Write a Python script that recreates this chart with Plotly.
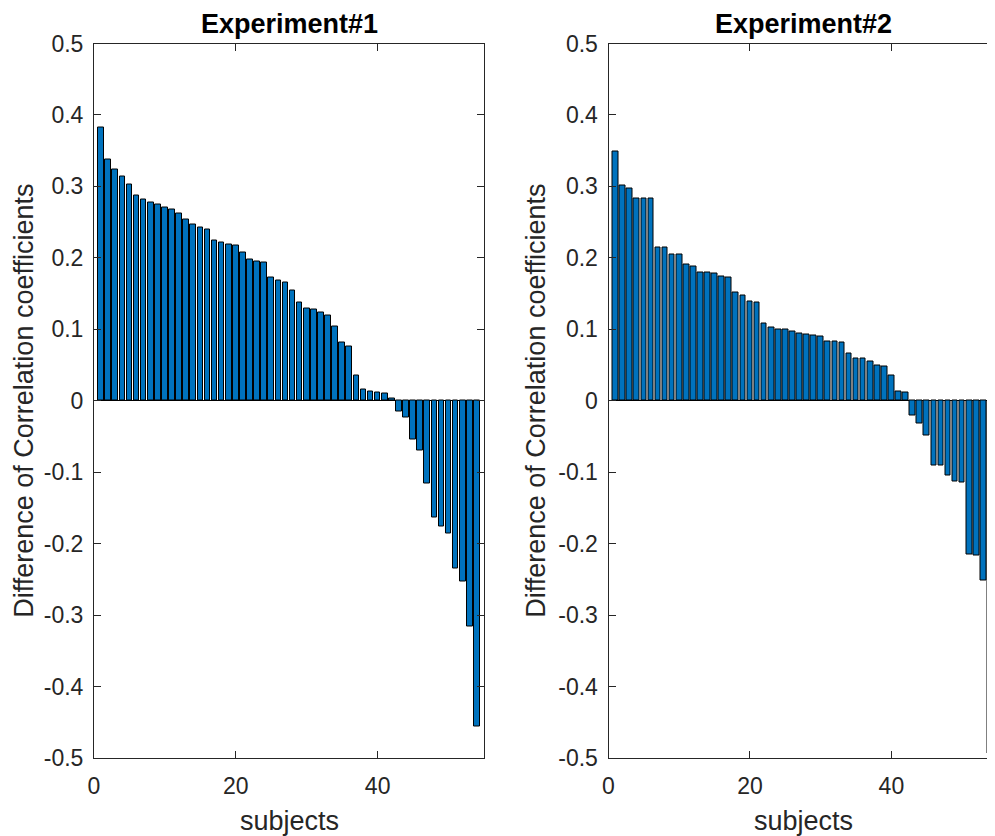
import plotly.graph_objects as go

# ---------------- data ----------------
subjects = list(range(1, 55))

exp1_diff = [0.383, 0.337, 0.324, 0.314, 0.302, 0.287, 0.282, 0.278, 0.275, 0.270,
             0.268, 0.262, 0.253, 0.247, 0.243, 0.239, 0.224, 0.221, 0.219, 0.217,
             0.207, 0.198, 0.195, 0.193, 0.172, 0.168, 0.165, 0.155, 0.138, 0.129,
             0.128, 0.124, 0.120, 0.104, 0.082, 0.076, 0.036, 0.016, 0.013, 0.012,
             0.010, 0.003, -0.015, -0.024, -0.054, -0.069, -0.116, -0.164, -0.176, -0.186,
             -0.235, -0.253, -0.316, -0.456]

exp2_diff = [0.349, 0.301, 0.297, 0.283, 0.283, 0.283, 0.215, 0.215, 0.205, 0.204,
             0.191, 0.188, 0.180, 0.179, 0.178, 0.174, 0.172, 0.152, 0.148, 0.139,
             0.138, 0.108, 0.103, 0.100, 0.100, 0.097, 0.094, 0.093, 0.092, 0.090,
             0.083, 0.083, 0.082, 0.066, 0.059, 0.059, 0.055, 0.050, 0.048, 0.035,
             0.013, 0.011, -0.021, -0.032, -0.049, -0.090, -0.091, -0.104, -0.113, -0.115,
             -0.215, -0.216, -0.251, -0.493]

titles = ["Experiment#1", "Experiment#2"]
x_label = "subjects"
y_label = "Difference of Correlation coefficients"

y_tickvals = [-0.5, -0.4, -0.3, -0.2, -0.1, 0, 0.1, 0.2, 0.3, 0.4, 0.5]
y_ticktext = ["-0.5", "-0.4", "-0.3", "-0.2", "-0.1", "0", "0.1", "0.2", "0.3", "0.4", "0.5"]
x_tickvals = [0, 20, 40]
x_ticktext = ["0", "20", "40"]

# ---------------- styling ----------------
W, H = 995, 836
OFF = 8  # page body margin: figure pixel = screen pixel - OFF
FONT = "Liberation Sans, Arial, Helvetica, sans-serif"
AX = "#262626"
BAR = "#0072BD"
TICK_SIZE = 23
LABEL_SIZE = 27

left_px = (94 - OFF, 484 - OFF)
right_px = (608.5 - OFF, 997.5 - OFF)
top_px, bot_px = 43.5 - OFF, 758 - OFF
xmax_full = 55

ydom = [1 - bot_px / H, 1 - top_px / H]

fig = go.Figure()
for vals, xa, ya in [(exp1_diff, "x", "y"), (exp2_diff, "x2", "y2")]:
    fig.add_trace(go.Bar(
        x=subjects, y=vals, xaxis=xa, yaxis=ya, width=0.8,
        marker=dict(color=BAR, line=dict(color="#000000", width=1)),
        showlegend=False, hoverinfo="x+y",
    ))

common_x = dict(
    range=[0, xmax_full],
    tickvals=x_tickvals, ticktext=x_ticktext, ticks="inside", ticklen=7,
    tickcolor=AX, tickwidth=1, showline=True, linecolor=AX, linewidth=1,
    mirror="ticks", showgrid=False, zeroline=False, automargin=False,
    tickfont=dict(family=FONT, size=TICK_SIZE, color=AX), ticklabelstandoff=7,
)
common_y = dict(
    range=[-0.5, 0.5], tickvals=y_tickvals, ticktext=y_ticktext, ticks="inside",
    ticklen=7, tickcolor=AX, tickwidth=1, showline=True, linecolor=AX, linewidth=1,
    mirror="ticks", showgrid=False, zeroline=True, zerolinecolor="#000000",
    zerolinewidth=1, automargin=False,
    tickfont=dict(family=FONT, size=TICK_SIZE, color=AX), ticklabelstandoff=5,
)

fig.update_layout(
    template="none",
    width=W, height=H, autosize=False,
    margin=dict(l=0, r=0, t=0, b=0, pad=0),
    paper_bgcolor="white", plot_bgcolor="white",
    bargap=0,
    xaxis=dict(domain=[left_px[0] / W, left_px[1] / W], anchor="y", **common_x),
    yaxis=dict(domain=ydom, anchor="x", **common_y),
    xaxis2=dict(domain=[right_px[0] / W, right_px[1] / W], anchor="y2", **common_x),
    yaxis2=dict(domain=ydom, anchor="x2", **common_y),
)

annotations = []
for xa, title in [("x", titles[0]), ("x2", titles[1])]:
    annotations.append(dict(
        text="<b>%s</b>" % title, xref=xa, x=xmax_full / 2, yref="paper",
        y=1 - (41 - OFF) / H, yanchor="bottom", xanchor="center", showarrow=False,
        font=dict(family=FONT, size=LABEL_SIZE, color="#000000"),
    ))
    annotations.append(dict(
        text=x_label, xref=xa, x=xmax_full / 2, yref="paper",
        y=1 - (804 - OFF) / H, yanchor="top", xanchor="center", showarrow=False,
        font=dict(family=FONT, size=LABEL_SIZE, color=AX),
    ))
for xpx in (24 - OFF, 536 - OFF):
    annotations.append(dict(
        text=y_label, xref="paper", x=xpx / W, yref="paper", y=(ydom[0] + ydom[1]) / 2,
        xanchor="center", yanchor="middle", textangle=-90, showarrow=False,
        font=dict(family=FONT, size=LABEL_SIZE, color=AX),
    ))
fig.update_layout(annotations=annotations)

fig.write_html("out.html")
